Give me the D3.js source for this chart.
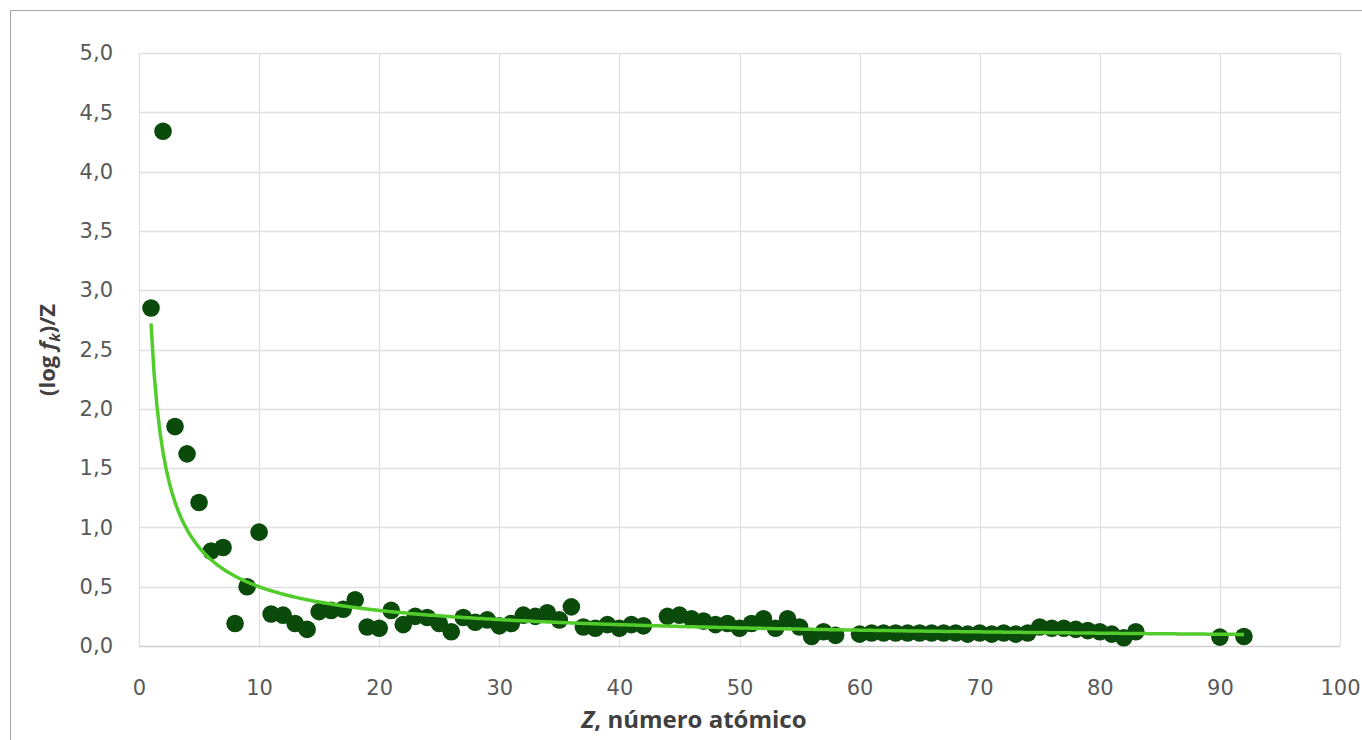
<!DOCTYPE html>
<html>
<head>
<meta charset="utf-8">
<script src="https://cdn.jsdelivr.net/npm/d3@7"></script>
<style>
  html, body { margin: 0; padding: 0; background: #ffffff; }
  svg { display: block; }
</style>
</head>
<body>
<svg id="chart" width="1362" height="740"></svg>
<script>
// Atomic number Z
const atomicNumbers = [
  1, 2, 3, 4, 5, 6, 7, 8, 9, 10,
  11, 12, 13, 14, 15, 16, 17, 18, 19, 20,
  21, 22, 23, 24, 25, 26, 27, 28, 29, 30,
  31, 32, 33, 34, 35, 36, 37, 38, 39, 40,
  41, 42, 44, 45, 46, 47, 48, 49, 50,
  51, 52, 53, 54, 55, 56, 57, 58, 60,
  61, 62, 63, 64, 65, 66, 67, 68, 69, 70,
  71, 72, 73, 74, 75, 76, 77, 78, 79, 80,
  81, 82, 83, 90, 92
];
// (log f_k)/Z
const ratioValues = [
  2.85, 4.34, 1.85, 1.62, 1.21, 0.80, 0.83, 0.19, 0.50, 0.96,
  0.27, 0.26, 0.19, 0.14, 0.29, 0.30, 0.31, 0.39, 0.16, 0.15,
  0.30, 0.18, 0.25, 0.24, 0.19, 0.12, 0.24, 0.20, 0.22, 0.17,
  0.19, 0.26, 0.25, 0.28, 0.22, 0.33, 0.16, 0.15, 0.18, 0.15,
  0.18, 0.17, 0.25, 0.26, 0.23, 0.21, 0.18, 0.19, 0.15,
  0.19, 0.23, 0.15, 0.23, 0.16, 0.08, 0.12, 0.09, 0.10,
  0.11, 0.11, 0.11, 0.11, 0.11, 0.11, 0.11, 0.11, 0.10, 0.11,
  0.10, 0.11, 0.10, 0.11, 0.16, 0.15, 0.15, 0.14, 0.13, 0.12,
  0.10, 0.07, 0.12, 0.075, 0.08
];
const xTicks = [0, 10, 20, 30, 40, 50, 60, 70, 80, 90, 100];
const yTicks = [0, 0.5, 1, 1.5, 2, 2.5, 3, 3.5, 4, 4.5, 5];
// Power trendline y = a * Z^b
const trendA = 2.72;
const trendB = -0.736;

const svg = d3.select("#chart");
const plot = { left: 139, right: 1340, top: 53, bottom: 646 };

// outer frame
svg.append("rect")
  .attr("x", 10.5).attr("y", 10.5)
  .attr("width", 1400).attr("height", 800)
  .attr("fill", "none").attr("stroke", "#a6a6a6").attr("stroke-width", 1);

const x = d3.scaleLinear().domain([0, 100]).range([plot.left, plot.right]);
const y = d3.scaleLinear().domain([0, 5]).range([plot.bottom, plot.top]);

const fmt = d => d3.format(".1f")(d).replace(".", ",");

// gridlines
const grid = svg.append("g");
grid.selectAll("line.h").data(yTicks).join("line")
  .attr("x1", plot.left).attr("x2", plot.right)
  .attr("y1", d => Math.round(y(d)) + 0.5).attr("y2", d => Math.round(y(d)) + 0.5)
  .attr("stroke", d => d === 0 ? "#cfcfcf" : "#e0e0e0").attr("stroke-width", 1.3);
grid.selectAll("line.v").data(xTicks).join("line")
  .attr("y1", plot.top).attr("y2", plot.bottom)
  .attr("x1", d => Math.round(x(d)) + 0.5).attr("x2", d => Math.round(x(d)) + 0.5)
  .attr("stroke", "#e0e0e0").attr("stroke-width", 1.3);

// axes (labels only)
const xAxis = svg.append("g")
  .attr("transform", `translate(0,${plot.bottom})`)
  .call(d3.axisBottom(x).tickValues(xTicks).tickSize(0).tickPadding(30).tickFormat(d3.format("d")));
const yAxis = svg.append("g")
  .attr("transform", `translate(${plot.left},0)`)
  .call(d3.axisLeft(y).tickValues(yTicks).tickSize(0).tickPadding(26).tickFormat(fmt));
[xAxis, yAxis].forEach(g => {
  g.select(".domain").remove();
  g.selectAll("text")
    .attr("fill", "#595959")
    .style("font-family", "'DejaVu Sans', sans-serif")
    .style("font-size", "21px");
});
xAxis.selectAll("text").attr("dy", "0.35em").attr("y", 42);

// data points
const points = atomicNumbers.map((z, i) => ({ z, v: ratioValues[i] }));
svg.append("g").selectAll("circle").data(points).join("circle")
  .attr("cx", d => x(d.z)).attr("cy", d => y(d.v))
  .attr("r", 8.8)
  .attr("fill", "#0a4a0a");

// trendline
const zMin = d3.min(atomicNumbers), zMax = d3.max(atomicNumbers);
const trendX = d3.range(zMin, zMax + 0.001, 0.25);
svg.append("path")
  .datum(trendX)
  .attr("fill", "none")
  .attr("stroke", "#52cc2a")
  .attr("stroke-width", 3.5)
  .attr("d", d3.line().x(z => x(z)).y(z => y(trendA * Math.pow(z, trendB))));

// x axis title
const xt = svg.append("text")
  .attr("x", 694).attr("y", 728)
  .attr("text-anchor", "middle")
  .attr("fill", "#404040")
  .style("font-family", "'Open Sans', sans-serif")
  .style("font-weight", "700")
  .style("font-size", "24px");
xt.append("tspan").style("font-style", "italic").text("Z");
xt.append("tspan").text(", número atómico");

// y axis title
const yt = svg.append("text")
  .attr("transform", `translate(55,350) rotate(-90)`)
  .attr("text-anchor", "middle")
  .attr("fill", "#404040")
  .style("font-family", "'Open Sans', sans-serif")
  .style("font-weight", "700")
  .style("font-size", "22px");
yt.append("tspan").text("(log ");
yt.append("tspan").style("font-style", "italic").text("f");
yt.append("tspan").style("font-style", "italic").style("font-size", "15px").attr("dy", 5).text("k");
yt.append("tspan").attr("dy", -5).text(")/Z");
</script>
</body>
</html>
